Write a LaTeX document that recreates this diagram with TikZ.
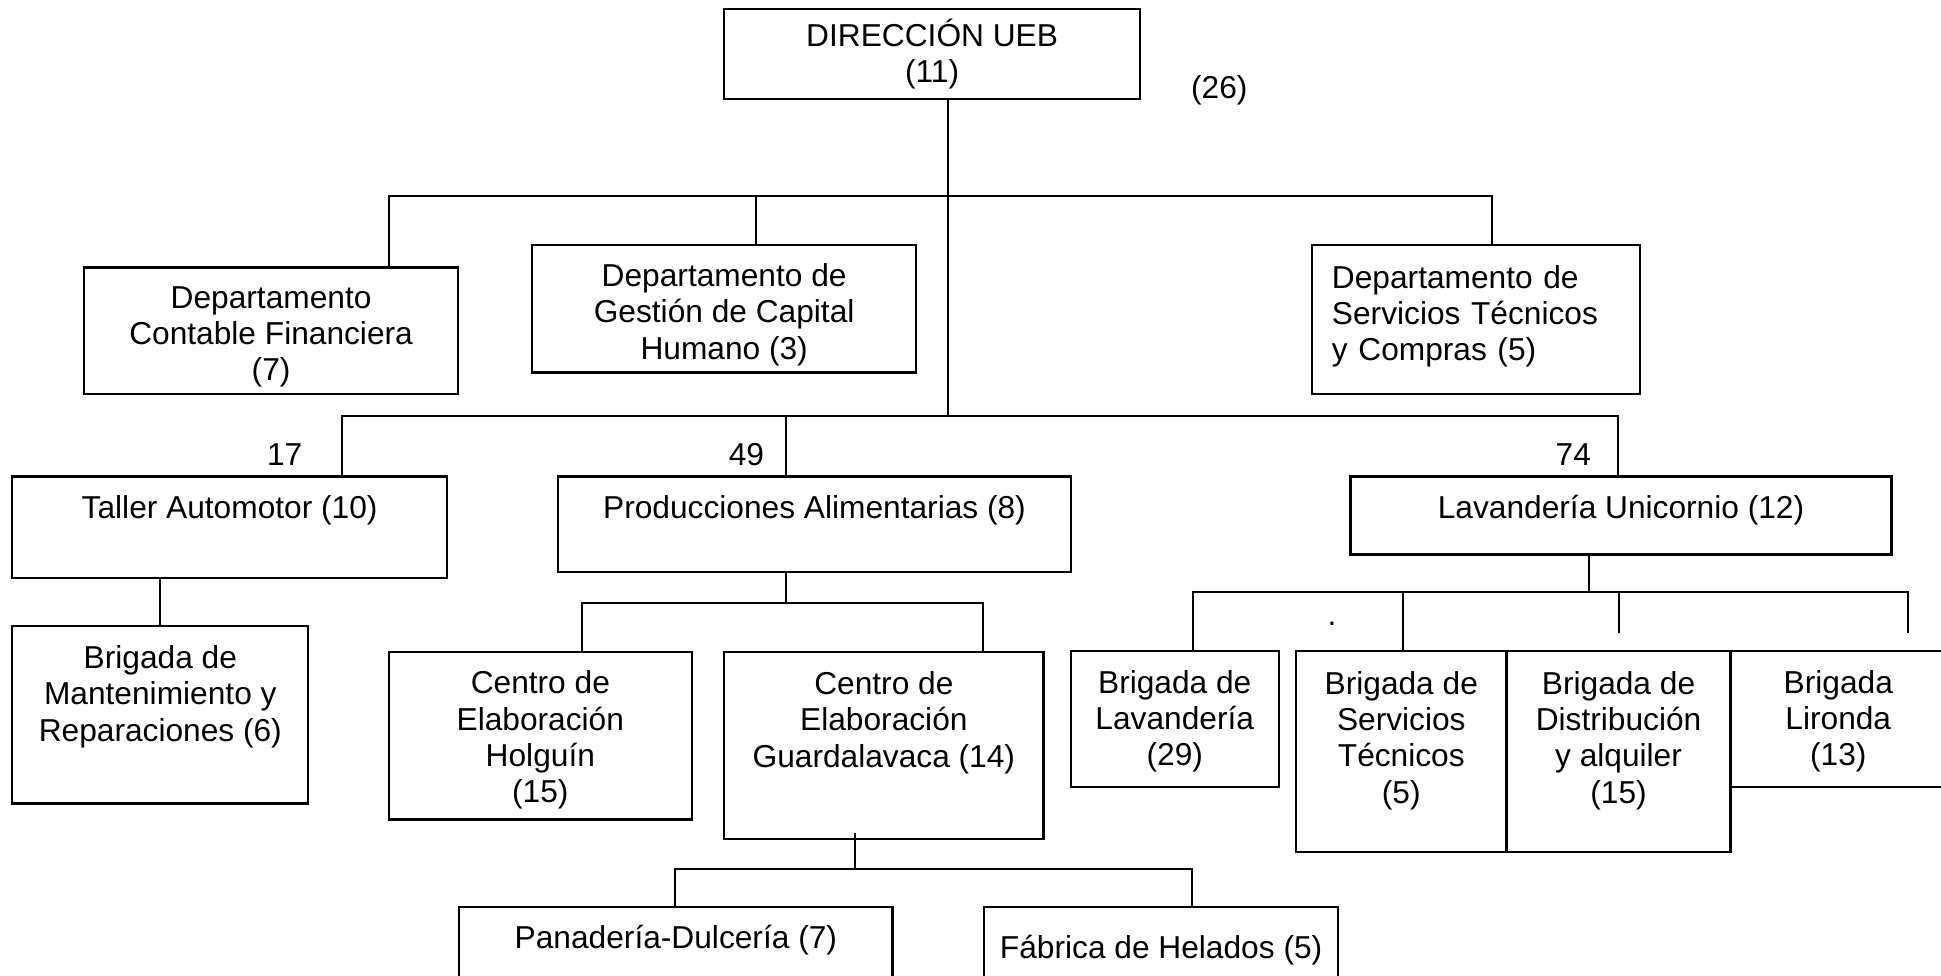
\documentclass[tikz,border=0pt]{standalone}
\usepackage{fontspec}
\setmainfont{Liberation Sans}
\newcommand{\padtop}[1][12.5pt]{\rule{0pt}{#1}}
\begin{document}
\begin{tikzpicture}[x=0.5pt,y=-0.5pt,
box/.style={
% The shape:
rectangle,
draw=black,
line width=0.9pt,
inner sep=0pt,
align=center,
font=\fontsize{12.8pt}{14.6pt}\selectfont
},
link/.style={
draw=black,
line width=0.8pt
},
count/.style={
inner sep=0pt,
font=\fontsize{12.8pt}{14.6pt}\selectfont
}
]
\useasboundingbox (0,0) rectangle (1568,788);
% Top:
\node (dir) [box,minimum width=168pt,minimum height=36.5pt] at (753,43.5) {DIRECCIÓN UEB\\(11)};
\node (total) [count] at (985,73) {(26)};
% Departments:
\node (contable) [box,minimum width=151pt,minimum height=51pt] at (219,267) {\padtop[14pt]Departamento\\Contable Financiera\\(7)};
\node (gestion) [box,minimum width=155pt,minimum height=51.5pt] at (585,249.5) {\padtop[14pt]Departamento de\\Gestión de Capital\\Humano (3)};
\node (compras) [box,minimum width=132.5pt,minimum height=60pt,text width=116.5pt,align=left] at (1192.5,258) {\padtop Departamento de\\Servicios Técnicos\\y Compras (5)\\[-6pt]\mbox{}};
% Units:
\node (taller) [box,minimum width=175.5pt,minimum height=41pt,text height=17pt,text depth=24pt] at (185.5,426) {Taller Automotor (10)};
\node (prod) [box,minimum width=207pt,minimum height=38.5pt,text height=17pt,text depth=21.5pt] at (658,423.5) {Producciones Alimentarias (8)};
\node (lavu) [box,minimum width=218.5pt,minimum height=31.5pt,text height=17pt,text depth=14.5pt] at (1309.5,416.5) {Lavandería Unicornio (12)};
\node (n17) [count] at (230,367) {17};
\node (n49) [count] at (603,367) {49};
\node (n74) [count] at (1271,367) {74};
% Third level:
\node (mant) [box,minimum width=119.5pt,minimum height=71.5pt] at (129.5,577.5) {\padtop Brigada de\\Mantenimiento y\\Reparaciones (6)\\[6pt]\mbox{}};
\node (holg) [box,minimum width=122.5pt,minimum height=67.5pt] at (436.5,594.5) {\padtop Centro de\\Elaboración\\Holguín\\(15)};
\node (guard) [box,minimum width=129pt,minimum height=75.5pt] at (714,602.5) {\padtop Centro de\\Elaboración\\Guardalavaca (14)\\[10pt]\mbox{}};
\node (blav) [box,minimum width=84pt,minimum height=55pt] at (949,581) {\padtop[11pt]Brigada de\\Lavandería\\(29)};
\node (bserv) [box,minimum width=85pt,minimum height=81pt] at (1132,607) {\padtop Brigada de\\Servicios\\Técnicos\\(5)\\ \mbox{}};
\node (bdist) [box,minimum width=90.5pt,minimum height=81pt] at (1307.5,607) {\padtop Brigada de\\Distribución\\y alquiler\\(15)\\ \mbox{}};
\node (blir) [box,minimum width=87pt,minimum height=55pt] at (1485,581) {\padtop[11pt]Brigada\\Lironda\\(13)};
\node (speck) [count] at (1076,504) {.};
% Bottom:
\node (pan) [box,minimum width=175pt,minimum height=43.5pt,text height=16.5pt,text depth=27pt] at (546,776.5) {Panadería-Dulcería (7)};
\node (fab) [box,minimum width=143pt,minimum height=43.5pt,text height=20.5pt,text depth=23pt] at (938,776.5) {Fábrica de Helados (5)};
% Joints:
\coordinate (j1) at (766,158);
\coordinate (j2) at (766,336);
\coordinate (j1l) at (314,158);
\coordinate (j1m) at (611,158);
\coordinate (j1r) at (1205,158);
\coordinate (j2l) at (276,336);
\coordinate (j2m) at (635,336);
\coordinate (j2r) at (1307,336);
\coordinate (j3) at (635,487);
\coordinate (j3l) at (470,487);
\coordinate (j3r) at (794,487);
\coordinate (j4) at (691,702);
\coordinate (j4l) at (545,702);
\coordinate (j4r) at (963,702);
\coordinate (j5) at (1284,478);
\coordinate (j5a) at (964,478);
\coordinate (j5b) at (1133,478);
\coordinate (j5c) at (1308,478);
\coordinate (j5d) at (1541,478);
\coordinate (e5c) at (1308,511);
\coordinate (e5d) at (1541,511);
\draw[link] (dir.south -| j1) -- (j2);
\draw[link] (j1l |- contable.north) -- (j1l) -- (j1r) -- (j1r |- compras.north);
\draw[link] (j1m) -- (j1m |- gestion.north);
\draw[link] (j2l |- taller.north) -- (j2l) -- (j2r) -- (j2r |- lavu.north);
\draw[link] (j2m) -- (j2m |- prod.north);
\draw[link] (taller.south -| mant.north) -- (mant.north);
\draw[link] (prod.south -| j3) -- (j3);
\draw[link] (j3l |- holg.north) -- (j3l) -- (j3r) -- (j3r |- guard.north);
\draw[link] ([yshift=3pt]guard.south -| j4) -- (j4);
\draw[link] (j4l |- pan.north) -- (j4l) -- (j4r) -- (j4r |- fab.north);
\draw[link] (lavu.south -| j5) -- (j5);
\draw[link] (j5a |- blav.north) -- (j5a) -- (j5d) -- (e5d);
\draw[link] (j5b) -- (j5b |- bserv.north);
\draw[link] (j5c) -- (e5c);
\end{tikzpicture}
\end{document}
